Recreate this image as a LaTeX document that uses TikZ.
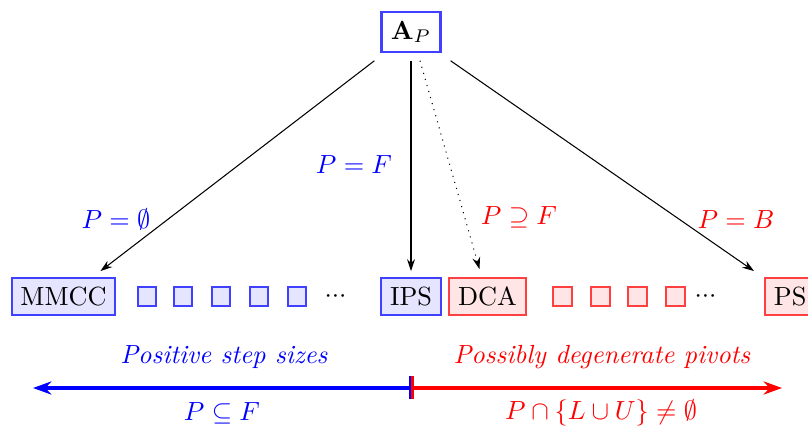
\documentclass[tikz,border=0pt]{standalone}
\usepackage{amsmath,amssymb}
\usetikzlibrary{arrows.meta,calc}
\begin{document}
\begin{tikzpicture}[x=0.381pt,y=-0.381pt,
  bbox/.style={draw=blue!75, line width=0.8pt, fill=blue!10, minimum height=14pt, inner sep=3.4pt, text height=6.9pt, text depth=0pt},
  rbox/.style={draw=red!75, line width=0.8pt, fill=red!10, minimum height=14pt, inner sep=3.4pt, text height=6.9pt, text depth=0pt},
  bsq/.style={draw=blue!75, line width=0.8pt, fill=blue!10, minimum size=7pt, inner sep=0pt},
  rsq/.style={draw=red!75, line width=0.8pt, fill=red!10, minimum size=7pt, inner sep=0pt},
  arr/.style={-{Stealth[length=4.5pt,width=3pt]}, line width=0.4pt},
  lab/.style={inner sep=0pt}]
\useasboundingbox (0,0) rectangle (808,427);
\node[draw=blue!75, line width=0.8pt, fill=white, minimum height=15pt, minimum width=22.5pt, inner sep=2pt] (AP) at (411,32) {$\mathbf{A}_P$};
\node[bbox] (MMCC) at (63.5,296.5) {MMCC};
\node[bsq] (b1) at (147,296.5) {};
\node[bsq] (b2) at (183,296.5) {};
\node[bsq] (b3) at (221,296.5) {};
\node[bsq] (b4) at (259,296.5) {};
\node[bsq] (b5) at (297,296.5) {};
\node[lab, anchor=base] (bd) at (335.5,302.6) {${\cdot}{\cdot}{\cdot}$};
\node[bbox] (IPS) at (411,296.5) {IPS};
\node[rbox] (DCA) at (487.5,296.5) {DCA};
\node[rsq] (r1) at (562.5,296.5) {};
\node[rsq] (r2) at (600.5,296.5) {};
\node[rsq] (r3) at (637.5,296.5) {};
\node[rsq] (r4) at (675.5,296.5) {};
\node[lab, anchor=base] (rd) at (705.5,302.6) {${\cdot}{\cdot}{\cdot}$};
\node[rbox, anchor=west] (PS) at (764,296.5) {PS};

\draw[arr] ($(AP.south west)+(-6,8)$) -- ($(MMCC.north east)+(-16,-6)$);
\draw[arr] ($(AP.south)+(0,8)$) -- ($(IPS.north)+(0,-6)$);
\draw[arr, dotted] ($(AP.south)+(9,8)$) -- ($(DCA.north)+(-8,-8)$);
\draw[arr] ($(AP.south east)+(9,8)$) -- ($(PS.north west)+(-10,-6)$);

\node[lab, text=blue] (l1) at (116,219) {$P=\emptyset$};
\node[lab, text=blue] (l2) at (354,165) {$P=F$};
\node[lab, text=red] (l3) at (519,217) {$P\supseteq F$};
\node[lab, text=red] (l4) at (736,220) {$P=B$};

\coordinate (mid) at (411,388);
\coordinate (lend) at (33,388);
\coordinate (rend) at (782,388);
\draw[blue, line width=1.2pt, -{Stealth[length=7pt,width=5pt]}] (mid) -- (lend);
\draw[red, line width=1.2pt, -{Stealth[length=7pt,width=5pt]}] (mid) -- (rend);
\draw[blue, line width=0.8pt] ($(mid)+(-0.5,-12)$) -- ($(mid)+(-0.5,11)$);
\draw[red, line width=0.8pt] ($(mid)+(1.5,-12)$) -- ($(mid)+(1.5,11)$);

\node[lab, text=blue] (t1) at (224,357) {\textit{Positive step sizes}};
\node[lab, text=red] (t2) at (602,357) {\textit{Possibly degenerate pivots}};
\node[lab, text=blue] (m1) at (222,413) {$P\subseteq F$};
\node[lab, text=red] (m2) at (601,413) {$P\cap\{L\cup U\}\neq\emptyset$};
\end{tikzpicture}
\end{document}
